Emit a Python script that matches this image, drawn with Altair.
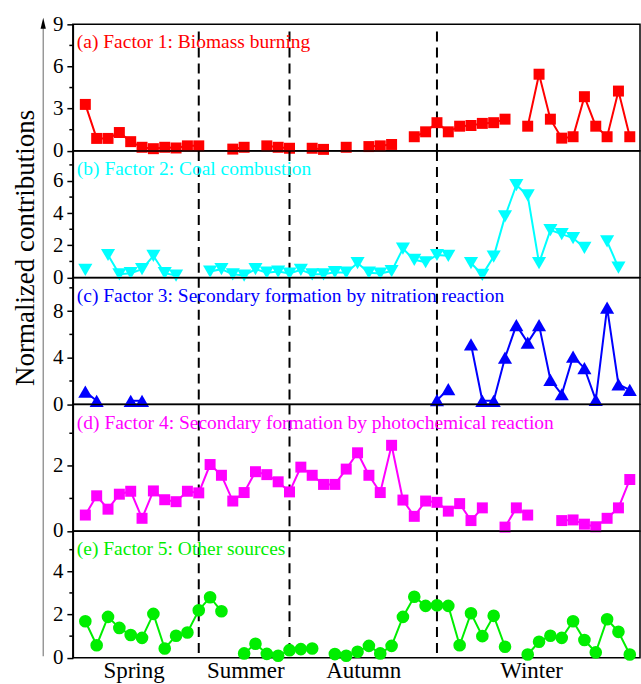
import altair as alt
import pandas as pd

# ---------------- data ----------------
sample_index = list(range(49))

factor1 = [3.3, 0.88, 0.88, 1.3, 0.65, 0.25, 0.15, 0.25, 0.2, 0.35, 0.35, None, None, 0.12, 0.25, None,
           0.35, 0.25, 0.18, None, 0.18, 0.1, None, 0.25, None, 0.3, 0.35, 0.45, None, 1.0, 1.35, 2.0,
           1.35, 1.75, 1.8, 1.95, 2.0, 2.25, None, 1.75, 5.45, 2.25, 0.9, 1.0, 3.85, 1.75, 1.0, 4.25, 1.0]
factor2 = [0.48, None, 1.4, 0.2, 0.27, 0.52, 1.35, 0.27, 0.12, None, None, 0.37, 0.52, 0.2, 0.12, 0.52,
           0.3, 0.37, 0.25, 0.48, 0.2, 0.2, 0.33, 0.3, 0.9, 0.3, 0.25, 0.4, 1.8, 1.1, 0.95, 1.4,
           1.35, None, 0.9, 0.17, 1.3, 3.8, 5.75, 5.1, 0.9, 2.95, 2.7, 2.45, 1.85, None, 2.25, 0.62, None]
factor3 = [1.08, 0.3, None, None, 0.3, 0.3, None, None, None, None, None, None, None, None, None, None,
           None, None, None, None, None, None, None, None, None, None, None, None, None, None, None, 0.35,
           1.3, None, 5.15, 0.3, 0.3, 4.0, 6.8, 5.3, 6.8, 2.1, 0.86, 4.1, 3.1, 0.37, 8.3, 1.7, 1.23]
factor4 = [0.49, 1.08, 0.67, 1.13, 1.22, 0.39, 1.23, 0.96, 0.9, 1.22, 1.17, 2.04, 1.71, 0.92, 1.18, 1.82,
           1.73, 1.51, 1.2, 1.96, 1.71, 1.43, 1.43, 1.9, 2.4, 1.71, 1.18, 2.63, 0.95, 0.45, 0.92, 0.88,
           0.61, 0.84, 0.32, 0.71, None, 0.12, 0.71, 0.49, None, None, 0.32, 0.34, 0.21, 0.13, 0.39, 0.71, 1.58]
factor5 = [1.69, 0.58, 1.89, 1.38, 1.05, 0.92, 2.03, 0.43, 1.02, 1.17, 2.2, 2.8, 2.15, None, 0.2, 0.65,
           0.18, 0.09, 0.35, 0.4, 0.43, None, 0.17, 0.09, 0.28, 0.55, 0.2, 0.55, 1.89, 2.82, 2.4, 2.43,
           2.4, 0.58, 2.06, 1.0, 1.94, 0.51, None, 0.15, 0.74, 1.02, 0.92, 1.69, 0.82, 0.25, 1.78, 1.2, 0.15]

panel_titles = ["(a) Factor 1: Biomass burning",
                "(b) Factor 2: Coal combustion",
                "(c) Factor 3: Secondary formation by nitration reaction",
                "(d) Factor 4: Secondary formation by photochemical reaction",
                "(e) Factor 5: Other sources"]
season_bounds = [10, 18, 31]
season_names = ["Spring", "Summer", "Autumn", "Winter"]
season_centers = [4.25, 14.1, 24.5, 39.3]
y_title = "Normalized contributions"

# ---------------- style ----------------
FONT = "Liberation Serif"
W = 568.3
H = 126.7
X_DOMAIN = [-1.1, 48.9]

panel_styles = [
    dict(vals=factor1, color="#FF0000", shape="square", size=121, domain=[0, 9], major=[0, 3, 6, 9], minor=[1.5, 4.5, 7.5]),
    dict(vals=factor2, color="#00FFFF", shape="triangle-down", size=200, domain=[0, 7.86], major=[0, 2, 4, 6], minor=[1, 3, 5, 7]),
    dict(vals=factor3, color="#0000FF", shape="triangle-up", size=200, domain=[0, 10.86], major=[0, 4, 8], minor=[2, 6, 10]),
    dict(vals=factor4, color="#FF00FF", shape="square", size=121, domain=[0, 3.88], major=[0, 2], minor=[1, 3]),
    dict(vals=factor5, color="#00EE00", shape="circle", size=160, domain=[0, 5.85], major=[0, 2, 4], minor=[1, 3, 5]),
]


def frame(vals):
    rows = []
    seg = 0
    prev = False
    for i, v in zip(sample_index, vals):
        if v is None:
            prev = False
            continue
        if not prev:
            seg += 1
        rows.append({"i": i, "v": v, "seg": seg})
        prev = True
    return pd.DataFrame(rows)


label_expr = ("datum.value < {0} ? '{3}' : datum.value < {1} ? '{4}' : "
              "datum.value < {2} ? '{5}' : '{6}'").format(*season_bounds, *season_names)

panels = []
for k, st in enumerate(panel_styles):
    last = k == len(panel_styles) - 1
    if last:
        x_axis = alt.Axis(values=season_centers, labelExpr=label_expr, ticks=False, domain=False,
                          grid=False, title=None, labelFont=FONT, labelFontSize=23, labelColor="black",
                          labelPadding=2, labelFlush=False)
    else:
        x_axis = None
    X = alt.X("i:Q", scale=alt.Scale(domain=X_DOMAIN, nice=False, zero=False), axis=x_axis)
    Y = alt.Y("v:Q", scale=alt.Scale(domain=st["domain"], nice=False, zero=False),
              axis=alt.Axis(values=st["major"], format="d", title=None, grid=False))

    df = frame(st["vals"])
    base = alt.Chart(df)

    dashed = alt.Chart(pd.DataFrame({"i": season_bounds})).mark_rule(
        color="black", strokeWidth=2, strokeDash=[10, 6]).encode(
        x=X, y=alt.value(7.3 if k == 0 else 0), y2=alt.value(H))

    minor = alt.Chart(pd.DataFrame({"v": st["minor"]})).mark_rule(
        color="black", strokeWidth=1.5).encode(
        y=Y, x=alt.value(-3.5), x2=alt.value(0))

    line = base.mark_line(color=st["color"], strokeWidth=2).encode(x=X, y=Y, detail="seg:N")
    pts = base.mark_point(filled=True, opacity=1, shape=st["shape"], size=st["size"],
                          color=st["color"]).encode(x=X, y=Y)

    title = alt.Chart(pd.DataFrame({"t": [panel_titles[k]]})).mark_text(
        align="left", baseline="alphabetic", font=FONT, fontSize=19.5, color=st["color"]).encode(
        x=alt.value(4), y=alt.value(24), text="t:N")

    layers = [dashed, minor, line, pts, title]

    if k == 0:
        arrow_line = alt.Chart(pd.DataFrame({"a": [0]})).mark_rule(
            color="#808080", strokeWidth=1.2).encode(
            x=alt.value(-29.7), y=alt.value(0), y2=alt.value(5 * H - 0.2))
        arrow_head = alt.Chart(pd.DataFrame({"a": [0]})).mark_point(
            shape="M0,-1L0.48,1L-0.48,1Z", filled=True, opacity=1, size=121, color="black").encode(
            x=alt.value(-29.7), y=alt.value(-1.2))
        ytitle = alt.Chart(pd.DataFrame({"t": [y_title]})).mark_text(
            angle=270, align="center", baseline="alphabetic", font=FONT, fontSize=27,
            color="black").encode(x=alt.value(-39), y=alt.value(224), text="t:N")
        layers += [arrow_line, arrow_head, ytitle]

    panels.append(alt.layer(*layers).properties(width=W, height=H))

chart = alt.vconcat(*panels, spacing=0, bounds="flush").properties(
    padding={"left": 11, "top": 11.7, "right": 0, "bottom": 0},
    background="white",
).configure_view(
    stroke="black", strokeWidth=1.5
).configure_axisY(
    domainColor="black", domainWidth=1.5, tickColor="black", tickSize=6, tickWidth=1.5,
    labelFont=FONT, labelFontSize=21, labelColor="black", labelPadding=4
)

chart.save("out.html", embed_options={"renderer": "svg", "actions": False})
